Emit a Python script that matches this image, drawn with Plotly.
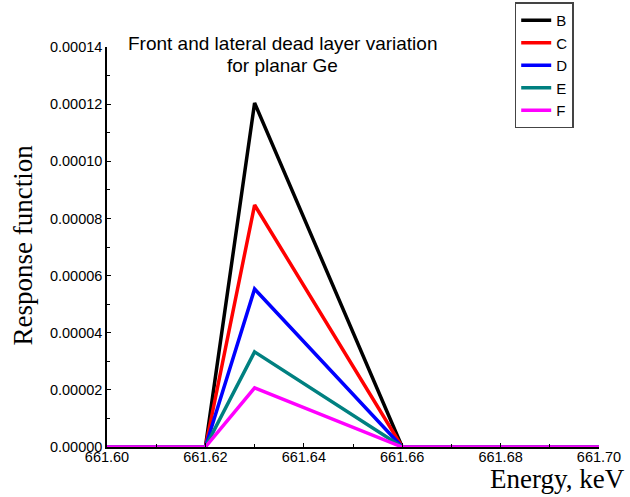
import plotly.graph_objects as go

energy = [661.60, 661.61, 661.62, 661.63, 661.66, 661.67, 661.68, 661.69, 661.70]
series_names = ["B", "C", "D", "E", "F"]
peak_B = [0, 0, 0, 0.0001204, 0, 0, 0, 0, 0]
peak_C = [0, 0, 0, 0.0000847, 0, 0, 0, 0, 0]
peak_D = [0, 0, 0, 0.0000553, 0, 0, 0, 0, 0]
peak_E = [0, 0, 0, 0.0000333, 0, 0, 0, 0, 0]
peak_F = [0, 0, 0, 0.0000207, 0, 0, 0, 0, 0]
colors = ["#000000", "#ff0000", "#0000ff", "#008080", "#ff00ff"]

fig = go.Figure()
for name, ys, c in zip(series_names, [peak_B, peak_C, peak_D, peak_E, peak_F], colors):
    fig.add_trace(go.Scatter(x=energy, y=ys, mode="lines", name=name,
                             line=dict(color=c, width=3.5)))

fig.update_layout(
    width=630, height=497,
    margin=dict(l=107, r=31, t=47, b=50, autoexpand=False),
    paper_bgcolor="white", plot_bgcolor="white",
    font=dict(family="Arial, Liberation Sans", color="black", size=14.5),
    showlegend=True,
    legend=dict(xref="container", yref="container", x=0.817, y=0.995,
                xanchor="left", yanchor="top",
                bordercolor="#444", borderwidth=1.5,
                font=dict(size=15, family="Arial, Liberation Sans"),
                tracegroupgap=0, itemwidth=30, bgcolor="white"),
    xaxis=dict(range=[661.60, 661.70], tickvals=[661.60, 661.62, 661.64, 661.66, 661.68, 661.70],
               tickformat=".2f", showline=True, linecolor="black", linewidth=1.5,
               ticks="inside", ticklen=4, tickcolor="black", showgrid=False, zeroline=False,
               minor=dict(ticks="inside", ticklen=3, dtick=0.01, tickcolor="black"),
               tickfont=dict(size=14.5), ticklabelstandoff=-4, automargin=False),
    yaxis=dict(range=[0, 0.00014], dtick=0.00002, tickformat=".5f",
               showline=True, linecolor="black", linewidth=1.5,
               ticks="inside", ticklen=4, tickcolor="black", showgrid=False, zeroline=False,
               minor=dict(ticks="inside", ticklen=3, dtick=0.00001, tickcolor="black"),
               tickfont=dict(size=14.5), ticklabelstandoff=0, automargin=False),
    annotations=[
        dict(text="Front and lateral dead layer variation", xref="paper", yref="paper",
             x=0.3577, y=1.0075, xanchor="center", yanchor="middle", showarrow=False,
             font=dict(size=19, family="Arial, Liberation Sans")),
        dict(text="for planar Ge", xref="paper", yref="paper",
             x=0.3577, y=0.955, xanchor="center", yanchor="middle", showarrow=False,
             font=dict(size=19, family="Arial, Liberation Sans")),
        dict(text="Response function", xref="paper", yref="paper", x=-0.1707, y=0.504,
             textangle=-90, showarrow=False, xanchor="center", yanchor="middle",
             font=dict(size=27, family="Liberation Serif, Times New Roman")),
        dict(text="Energy, keV", xref="paper", yref="paper", x=1.0569, y=-0.08,
             showarrow=False, xanchor="right", yanchor="middle",
             font=dict(size=27, family="Liberation Serif, Times New Roman")),
    ],
)
fig.write_html("out.html", config={"displayModeBar": False},
               post_script="document.body.style.margin='0';")
